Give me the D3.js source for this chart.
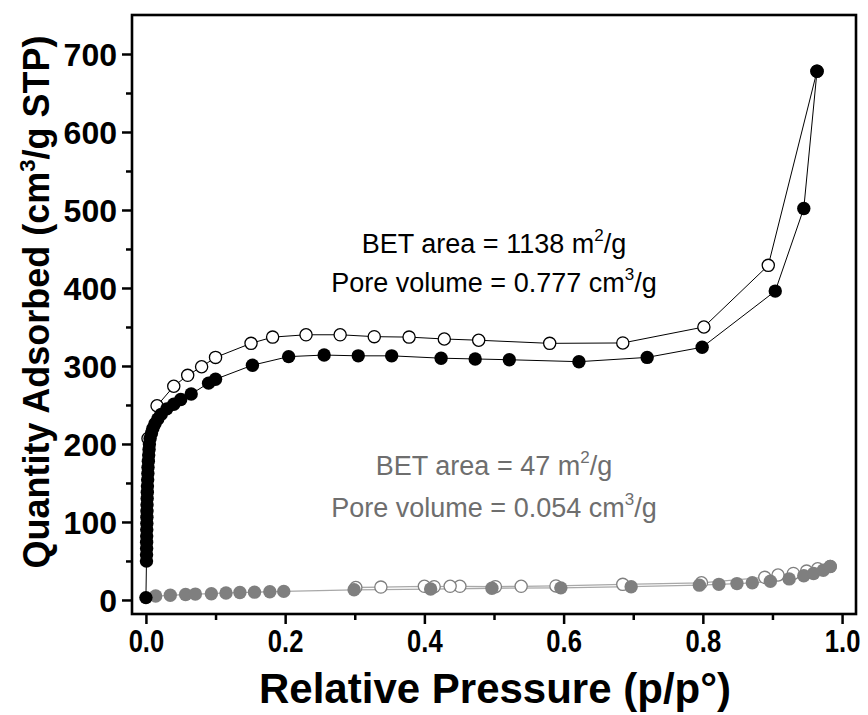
<!DOCTYPE html>
<html>
<head>
<meta charset="utf-8">
<script src="https://cdn.jsdelivr.net/npm/d3@7"></script>
<style>
  html, body { margin: 0; padding: 0; background: #fff; }
  svg { display: block; }
  text { font-family: "Liberation Sans", Arial, Helvetica, sans-serif; }
</style>
</head>
<body>
<svg id="chart" width="868" height="715"></svg>
<script>
// ---------- data (p/p0, quantity adsorbed cm3/g STP) ----------
const xMajorTicks = [0.0, 0.2, 0.4, 0.6, 0.8, 1.0];
const xMinorTicks = [0.1, 0.3, 0.5, 0.7, 0.9];
const yMajorTicks = [0, 100, 200, 300, 400, 500, 600, 700];
const yMinorTicks = [50, 150, 250, 350, 450, 550, 650];

// high-surface-area sample (black)
const blackAdsorption = [
  [0.000, 3], [0.0008, 50], [0.0009, 58], [0.0010, 66], [0.0010, 74], [0.0011, 82],
  [0.0012, 90], [0.0013, 98], [0.0014, 106], [0.0015, 114], [0.0016, 122], [0.0018, 130],
  [0.0020, 138], [0.0022, 146], [0.0025, 154], [0.0028, 162], [0.0030, 170], [0.0035, 178],
  [0.0040, 186], [0.0045, 193], [0.0050, 200], [0.006, 207], [0.008, 214], [0.010, 220],
  [0.013, 226], [0.017, 232], [0.022, 238], [0.030, 245], [0.040, 251], [0.050, 257],
  [0.065, 264], [0.090, 278], [0.100, 283], [0.153, 301], [0.205, 312], [0.256, 314],
  [0.305, 313], [0.353, 313], [0.424, 310], [0.473, 309], [0.522, 308], [0.622, 305.5],
  [0.720, 311], [0.799, 324], [0.904, 396], [0.945, 502], [0.964, 678]
];
const blackDesorption = [
  [0.964, 678], [0.894, 429], [0.8015, 350], [0.685, 329.5], [0.580, 329], [0.478, 333],
  [0.4286, 334.6], [0.378, 337], [0.328, 337.6], [0.279, 340], [0.230, 340], [0.182, 337],
  [0.151, 329], [0.100, 311], [0.080, 299], [0.060, 288], [0.040, 274], [0.016, 249], [0.003, 207]
];

// low-surface-area sample (grey)
const greyAdsorption = [
  [0.014, 5], [0.035, 6], [0.057, 7], [0.071, 7.5], [0.094, 8], [0.115, 9], [0.135, 9.5],
  [0.156, 10], [0.178, 10.5], [0.198, 11], [0.299, 13], [0.409, 14], [0.497, 15],
  [0.596, 15.5], [0.697, 17], [0.795, 19], [0.823, 20], [0.849, 21], [0.871, 22],
  [0.897, 24], [0.924, 27], [0.945, 31], [0.959, 34], [0.973, 38], [0.983, 43]
];
const greyDesorption = [
  [0.983, 43], [0.965, 40], [0.949, 37], [0.930, 34], [0.908, 32], [0.889, 29],
  [0.798, 22], [0.685, 20], [0.589, 18], [0.539, 17.5], [0.502, 17], [0.451, 17.5],
  [0.437, 17.5], [0.414, 17], [0.400, 17.5], [0.3375, 16.5], [0.3015, 16]
];

// ---------- layout ----------
const svg = d3.select("#chart");
const pL = 132, pR = 856, pT = 15, pB = 614;
const x = d3.scaleLinear().domain([-0.02, 1.02]).range([pL, pR]);
const y = d3.scaleLinear().domain([-18, 750]).range([pB, pT]);

svg.append("rect").attr("width", 868).attr("height", 715).attr("fill", "#fff");

const line = d3.line().x(d => x(d[0])).y(d => y(d[1]));
const R = 6.7;
const GREY = "#7f7f7f";

// grey sample
const gGrey = svg.append("g");
gGrey.append("path").datum(greyDesorption).attr("d", line)
  .attr("fill", "none").attr("stroke", "#a8a8a8").attr("stroke-width", 1.3);
gGrey.append("path").datum(greyAdsorption).attr("d", line)
  .attr("fill", "none").attr("stroke", "#a8a8a8").attr("stroke-width", 1.3);
gGrey.selectAll("circle.go").data(greyDesorption).join("circle").attr("class", "go")
  .attr("cx", d => x(d[0])).attr("cy", d => y(d[1])).attr("r", R - 0.6)
  .attr("fill", "#fff").attr("stroke", GREY).attr("stroke-width", 1.3);
gGrey.selectAll("circle.gf").data(greyAdsorption).join("circle").attr("class", "gf")
  .attr("cx", d => x(d[0])).attr("cy", d => y(d[1])).attr("r", R)
  .attr("fill", GREY);

// black sample
const gBlack = svg.append("g");
gBlack.append("path").datum(blackDesorption).attr("d", line)
  .attr("fill", "none").attr("stroke", "#000").attr("stroke-width", 1);
gBlack.append("path").datum(blackAdsorption).attr("d", line)
  .attr("fill", "none").attr("stroke", "#000").attr("stroke-width", 1);
gBlack.selectAll("circle.bo").data(blackDesorption).join("circle").attr("class", "bo")
  .attr("cx", d => x(d[0])).attr("cy", d => y(d[1])).attr("r", R - 0.6)
  .attr("fill", "#fff").attr("stroke", "#000").attr("stroke-width", 1.3);
gBlack.selectAll("circle.bf").data(blackAdsorption).join("circle").attr("class", "bf")
  .attr("cx", d => x(d[0])).attr("cy", d => y(d[1])).attr("r", R)
  .attr("fill", "#000");

// ---------- axes ----------
function styleAxis(g) {
  g.select(".domain").remove();
  g.selectAll(".tick line").attr("stroke", "#000").attr("stroke-width", 2.5);
  g.selectAll(".tick text").attr("font-weight", "bold")
    .attr("fill", "#000").attr("font-family", "'Liberation Sans', Arial, sans-serif");
}
svg.append("g").attr("transform", `translate(0,${pB})`)
  .call(d3.axisBottom(x).tickValues(xMajorTicks).tickFormat(d3.format(".1f")).tickSize(10).tickPadding(5))
  .call(styleAxis)
  .selectAll(".tick text").attr("font-size", 32).attr("transform", "scale(0.8,1)");
svg.append("g").attr("transform", `translate(0,${pB})`)
  .call(d3.axisBottom(x).tickValues(xMinorTicks).tickFormat("").tickSize(6))
  .call(styleAxis);
svg.append("g").attr("transform", `translate(${pL},0)`)
  .call(d3.axisLeft(y).tickValues(yMajorTicks).tickFormat(d3.format("d")).tickSize(10).tickPadding(5))
  .call(styleAxis)
  .selectAll(".tick text").attr("font-size", 32).attr("dy", "0.36em");
svg.append("g").attr("transform", `translate(${pL},0)`)
  .call(d3.axisLeft(y).tickValues(yMinorTicks).tickFormat("").tickSize(6))
  .call(styleAxis);

// frame
svg.append("rect").attr("x", pL).attr("y", pT)
  .attr("width", pR - pL).attr("height", pB - pT)
  .attr("fill", "none").attr("stroke", "#000").attr("stroke-width", 2.6);

// axis titles
svg.append("text").attr("x", 495).attr("y", 703)
  .attr("text-anchor", "middle").attr("font-size", 42).attr("font-weight", "bold")
  .text("Relative Pressure (p/p°)");
const yt = svg.append("text").attr("transform", `translate(49,302) rotate(-90)`)
  .attr("text-anchor", "middle").attr("font-size", 36).attr("font-weight", "bold");
yt.append("tspan").text("Quantity Adsorbed (cm");
yt.append("tspan").attr("font-size", 22).attr("dy", -14).text("3");
yt.append("tspan").attr("dy", 14).text("/g STP)");

// annotations
function annot(px, py, color, parts) {
  const t = svg.append("text").attr("x", x(px)).attr("y", y(py))
    .attr("text-anchor", "middle").attr("font-size", 27).attr("fill", color);
  parts.forEach(p => {
    const ts = t.append("tspan").text(p.t);
    if (p.sup) ts.attr("font-size", 17).attr("dy", -12);
    if (p.after) ts.attr("dy", 12);
  });
}
annot(0.50, 445, "#000", [{t: "BET area = 1138 m"}, {t: "2", sup: true}, {t: "/g", after: true}]);
annot(0.50, 395, "#000", [{t: "Pore volume = 0.777 cm"}, {t: "3", sup: true}, {t: "/g", after: true}]);
annot(0.50, 160, "#6e6e6e", [{t: "BET area = 47 m"}, {t: "2", sup: true}, {t: "/g", after: true}]);
annot(0.50, 106, "#6e6e6e", [{t: "Pore volume = 0.054 cm"}, {t: "3", sup: true}, {t: "/g", after: true}]);
</script>
</body>
</html>
